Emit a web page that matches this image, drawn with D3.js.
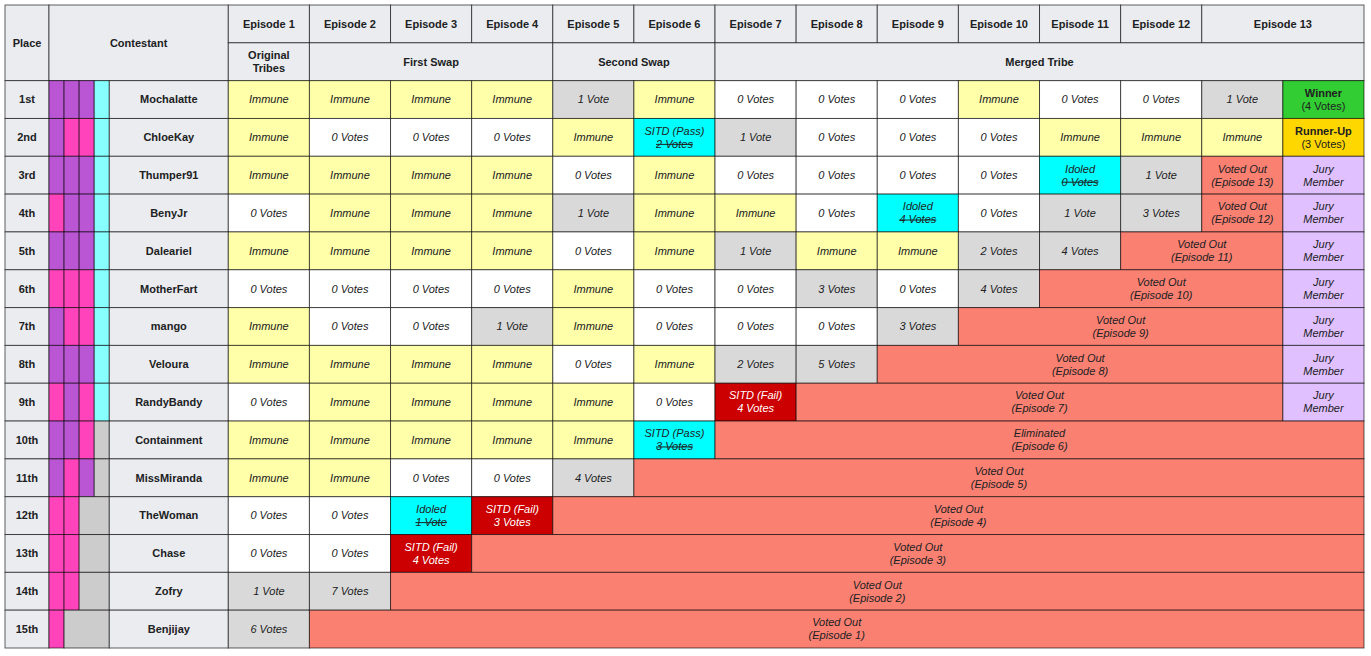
<!DOCTYPE html>
<html><head><meta charset="utf-8">
<script src="https://cdn.jsdelivr.net/npm/d3@7"></script>
<style>
body{margin:0;background:#fff;}
text{font-family:"Liberation Sans",Arial,sans-serif;font-size:11px;fill:#202122;}
</style></head>
<body><svg id="chart" width="1371" height="656"></svg>
<script>
// ---------- DATA ----------
const places = ["1st","2nd","3rd","4th","5th","6th","7th","8th","9th","10th","11th","12th","13th","14th","15th"];
const contestants = ["Mochalatte","ChloeKay","Thumper91","BenyJr","Daleariel","MotherFart","mango","Veloura","RandyBandy","Containment","MissMiranda","TheWoman","Chase","Zofry","Benjijay"];
// tribe per phase: Original, First Swap, Second Swap, Merged ("-" = not present)
const tribes = [
  ["A","A","A","M"],["A","B","B","M"],["A","A","A","M"],["B","A","A","M"],["A","A","A","M"],
  ["B","B","B","M"],["A","B","B","M"],["A","A","A","M"],["B","A","B","M"],["A","A","B","-"],
  ["A","B","A","-"],["B","B","-","-"],["B","B","-","-"],["B","B","-","-"],["B","-","-","-"]
];
const episodes = ["Episode 1","Episode 2","Episode 3","Episode 4","Episode 5","Episode 6","Episode 7","Episode 8","Episode 9","Episode 10","Episode 11","Episode 12","Episode 13"];
const phaseLabels = ["Original\nTribes","First Swap","Second Swap","Merged Tribe"];
const phaseEpisodes = [[1,1],[2,4],[5,6],[7,13]];
// IM = Immune, number = votes, SP = SITD pass, ID = idoled, SF = SITD fail, OUT = voted out, ELIM = eliminated, WIN/RU = final, JURY
const results = [
  ["IM","IM","IM","IM",1,"IM",0,0,0,"IM",0,0,1,"WIN:4"],
  ["IM",0,0,0,"IM","SP:2",1,0,0,0,"IM","IM","IM","RU:3"],
  ["IM","IM","IM","IM",0,"IM",0,0,0,0,"ID:0",1,"OUT:13","JURY"],
  [0,"IM","IM","IM",1,"IM","IM",0,"ID:4",0,1,3,"OUT:12","JURY"],
  ["IM","IM","IM","IM",0,"IM",1,"IM","IM",2,4,"OUT:11","JURY"],
  [0,0,0,0,"IM",0,0,3,0,4,"OUT:10","JURY"],
  ["IM",0,0,1,"IM",0,0,0,3,"OUT:9","JURY"],
  ["IM","IM","IM","IM",0,"IM",2,5,"OUT:8","JURY"],
  [0,"IM","IM","IM","IM",0,"SF:4","OUT:7","JURY"],
  ["IM","IM","IM","IM","IM","SP:3","ELIM:6"],
  ["IM","IM",0,0,4,"OUT:5"],
  [0,0,"ID:1","SF:3","OUT:4"],
  [0,0,"SF:4","OUT:3"],
  [1,7,"OUT:2"],
  [6,"OUT:1"]
];

// ---------- STYLE ----------
const C = {
  head:"#eaecf0", immune:"#ffffaa", zero:"#ffffff", votes:"#d9d9d9", idol:"#00ffff",
  fail:"#cc0000", out:"#fa8072", win:"#32cd32", ru:"#ffd700", jury:"#e0c0ff",
  A:"#ba55d3", B:"#ff44bb", M:"#88ffff", "-":"#cccccc", line:"rgba(0,0,0,0.62)"
};

const svg = d3.select("#chart");
const nCols = 14; // episode columns (ep13 has 2)
const x0 = 5, xPlace = 49, xName = 109.3, xEp = 228.3, xEnd = 1364;
const y0 = 5, yEnd = 648;
const totalRows = places.length + 2;
const rowY = d3.scaleLinear().domain([0,totalRows]).range([y0,yEnd]);
const colX = d3.scaleLinear().domain([0,nCols]).range([xEp,xEnd]);
const stripeX = d3.scaleLinear().domain([0,4]).range([xPlace,xName]);

const g = svg.append("g");
function cell(x1,y1,x2,y2,fill){
  g.append("rect").attr("x",x1).attr("y",y1).attr("width",x2-x1).attr("height",y2-y1)
   .attr("fill",fill).attr("stroke",C.line).attr("stroke-width",1);
}
function label(cx,cy,lines,opts={}){
  const lh = 13;
  const t0 = cy - (lines.length-1)*lh/2;
  lines.forEach((ln,i)=>{
    const o = typeof ln === "string" ? {t:ln} : ln;
    const tx = g.append("text").attr("x",cx).attr("y",t0+i*lh).attr("dy","0.35em")
      .attr("text-anchor","middle").text(o.t)
      .style("font-weight",(o.bold||opts.bold)?"bold":"normal")
      .style("font-style",(o.italic!==undefined?o.italic:opts.italic)?"italic":"normal")
      .style("fill",opts.color||"#202122");
    if(o.strike){
      const w = tx.node().getComputedTextLength();
      g.append("line").attr("x1",cx-w/2).attr("x2",cx+w/2)
       .attr("y1",t0+i*lh+0.5).attr("y2",t0+i*lh+0.5)
       .attr("stroke",opts.color||"#202122").attr("stroke-width",1);
    }
  });
}

// ---------- HEADER ----------
cell(x0,rowY(0),xPlace,rowY(2),C.head);
label((x0+xPlace)/2,rowY(1),["Place"],{bold:true});
cell(xPlace,rowY(0),xEp,rowY(2),C.head);
label((xPlace+xEp)/2,rowY(1),["Contestant"],{bold:true});
episodes.forEach((ep,i)=>{
  const span = i===12?2:1;
  cell(colX(i),rowY(0),colX(i+span),rowY(1),C.head);
  label((colX(i)+colX(i+span))/2,(rowY(0)+rowY(1))/2,[ep],{bold:true});
});
phaseLabels.forEach((p,i)=>{
  const a = phaseEpisodes[i][0]-1, b = phaseEpisodes[i][1]===13?14:phaseEpisodes[i][1];
  cell(colX(a),rowY(1),colX(b),rowY(2),C.head);
  label((colX(a)+colX(b))/2,(rowY(1)+rowY(2))/2,p.split("\n"),{bold:true});
});

// ---------- ROWS ----------
places.forEach((pl,r)=>{
  const ya = rowY(r+2), yb = rowY(r+3), cy=(ya+yb)/2;
  cell(x0,ya,xPlace,yb,C.head);
  label((x0+xPlace)/2,cy,[pl],{bold:true});
  // tribe stripes (merge trailing "-")
  const tr = tribes[r];
  let k=0;
  while(k<4){
    if(tr[k]==="-"){ cell(stripeX(k),ya,stripeX(4),yb,C["-"]); break; }
    cell(stripeX(k),ya,stripeX(k+1),yb,C[tr[k]]); k++;
  }
  cell(xName,ya,xEp,yb,C.head);
  label((xName+xEp)/2,cy,[contestants[r]],{bold:true});

  const res = results[r];
  const hasJury = res[res.length-1]==="JURY";
  let c=0;
  res.forEach((v,j)=>{
    let fill, lines, opts={italic:true}, span=1;
    if(v==="IM"){fill=C.immune;lines=["Immune"];}
    else if(typeof v==="number"){
      fill = v===0?C.zero:C.votes;
      lines=[v+(v===1?" Vote":" Votes")];
    } else {
      const [kind,num] = v.split(":");
      const n = +num;
      const vt = n+(n===1?" Vote":" Votes");
      if(kind==="SP"){fill=C.idol;lines=["SITD (Pass)",{t:vt,strike:true}];}
      else if(kind==="ID"){fill=C.idol;lines=["Idoled",{t:vt,strike:true}];}
      else if(kind==="SF"){fill=C.fail;lines=["SITD (Fail)",vt];opts.color="#ffffff";}
      else if(kind==="OUT"||kind==="ELIM"){
        fill=C.out;
        lines=[kind==="OUT"?"Voted Out":"Eliminated","(Episode "+n+")"];
        span = (hasJury?13:14)-c;
      }
      else if(kind==="WIN"){fill=C.win;lines=[{t:"Winner",bold:true,italic:false},{t:"("+vt+")",italic:false}];opts.italic=false;}
      else if(kind==="RU"){fill=C.ru;lines=[{t:"Runner-Up",bold:true,italic:false},{t:"("+vt+")",italic:false}];opts.italic=false;}
      else if(kind==="JURY"){fill=C.jury;lines=["Jury","Member"];}
    }
    cell(colX(c),ya,colX(c+span),yb,fill);
    label((colX(c)+colX(c+span))/2,cy,lines,opts);
    c+=span;
  });
});
</script></body></html>
